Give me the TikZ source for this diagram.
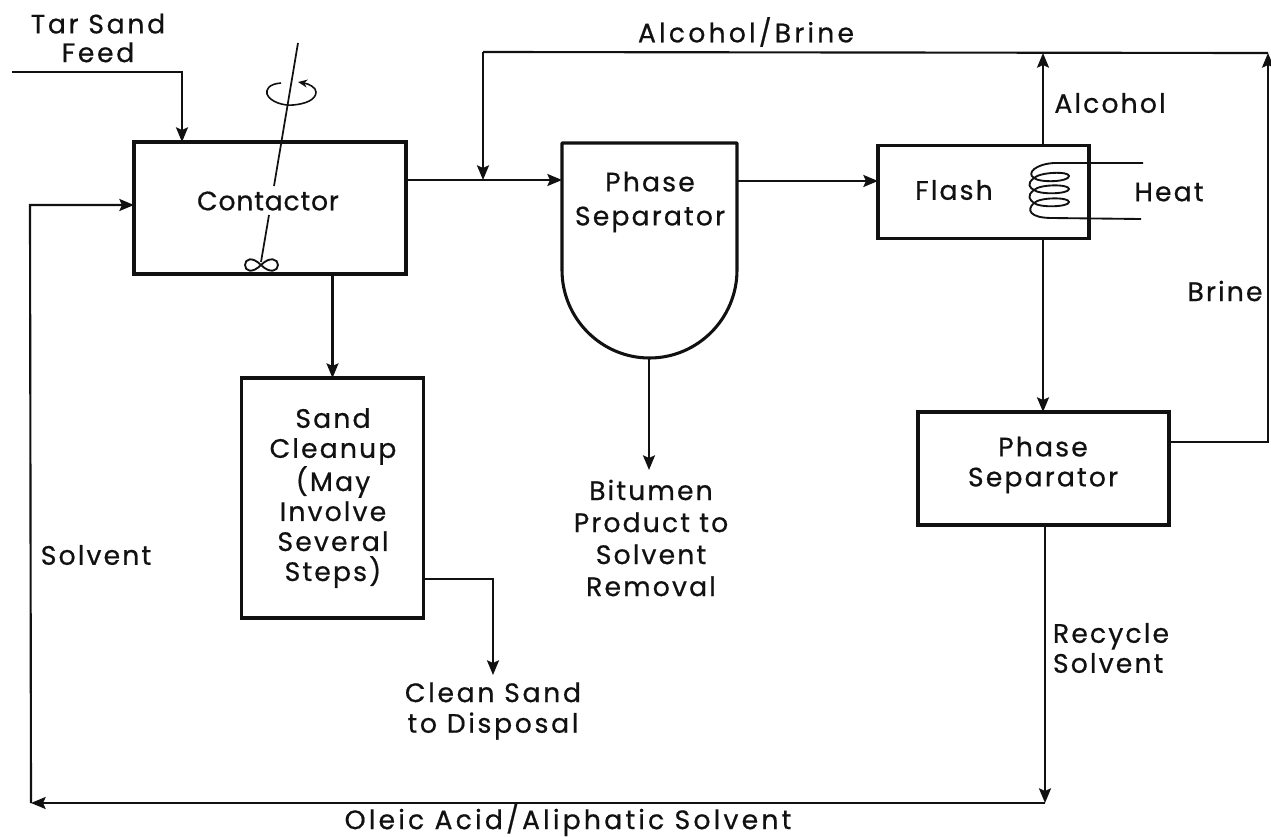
\documentclass[tikz,border=0pt]{standalone}
\usepackage{fontspec}
\setmainfont[LetterSpace=8,FakeBold=0.6]{Poppins}
\newcommand\lsp[1]{\addfontfeatures{LetterSpace=#1}}
\usetikzlibrary{arrows.meta}
\tikzset{
  x=0.75pt, y=-0.75pt,
  boxnode/.style={draw=inkc, line width=2.3pt, rectangle, inner sep=0pt, outer sep=0pt, align=center},
  hiddenbox/.style={rectangle, inner sep=0pt, outer sep=0pt},
  shapeline/.style={draw=inkc, line width=2.3pt, line join=round},
  flow/.style={draw=inkc, line width=1.6pt, -{Stealth[length=11pt,width=9pt,inset=2pt]}},
  plainline/.style={draw=inkc, line width=1.6pt},
  thin line/.style={draw=inkc, line width=1.1pt},
  lbl/.style={inner sep=0pt, outer sep=0pt, align=center, text=inkc, font=\fontsize{20}{22}\selectfont},
}
\definecolor{inkc}{HTML}{111111}
\begin{document}
\begin{tikzpicture}
\useasboundingbox (0,0) rectangle (1271,836);
% boxes
\node[boxnode, minimum width=204pt, minimum height=99pt] (contactor) at (270,208) {};
\node[lbl, font=\fontsize{20}{22}\selectfont\lsp{3}] at (268,201) (tcontactor) {Contactor};
\node[boxnode, minimum width=136.5pt, minimum height=180pt] (sandbox) at (332.5,498) {};
\node[lbl, font=\fontsize{20}{22.5}\selectfont] (tsand) at (333,498) {Sand\\Cleanup\\(May\\Involve\\Several\\Steps)};
\node[hiddenbox, minimum width=131.25pt, minimum height=162pt] (sep) at (649.5,251) {};
\draw[shapeline] (sep.west |- 0,270) -- (sep.north west) -- (sep.north east) -- (sep.east |- 0,270)
  .. controls (737,318.6) and (697.6,358) .. (649.5,358)
  .. controls (601.4,358) and (562,318.6) .. (sep.west |- 0,270) -- cycle;
\node[lbl, font=\fontsize{20}{25.5}\selectfont] (tsep) at (650,202) {Phase\\Separator};
\node[boxnode, minimum width=158.25pt, minimum height=69.75pt] (flash) at (983.5,192) {};
\node[lbl] (tflash) at (954,190) {Flash};
\node[boxnode, minimum width=188.25pt, minimum height=84.75pt] (sep2) at (1043.5,468.5) {};
\node[lbl, font=\fontsize{20}{22.5}\selectfont] (tsep2) at (1043,465) {Phase\\Separator};
% free ends
\coordinate (feedstart) at (12,72);
\coordinate (feedcorner) at (182,72);
\coordinate (topleft) at (483,52);
\coordinate (topright) at (1268,53);
\coordinate (junction) at (483,180);
\coordinate (alcoholtop) at (1043,53);
\coordinate (botright) at (1045,803);
\coordinate (botleft) at (31,803);
\coordinate (solvcorner) at (30,205);
\coordinate (brinecorner) at (1268,442);
\coordinate (sandcorner) at (493,579);
\coordinate (sandtip) at (493,675);
\coordinate (bittip) at (649,470);
% connectors
\draw[flow] (feedstart) -- (feedcorner) -- (feedcorner |- contactor.north);
\draw[flow] (contactor.east |- junction) -- (sep.west |- junction);
\draw[flow] (sep.east |- 0,181) -- (flash.west |- 0,181);
\draw[plainline] (topright) -- (topleft);
\draw[flow] (topleft) -- (junction);
\draw[flow] (flash.north -| alcoholtop) -- (alcoholtop);
\draw[flow] (sep2.east |- brinecorner) -- (brinecorner) -- (topright);
\draw[flow] (flash.south -| alcoholtop) -- (sep2.north -| alcoholtop);
\draw[flow] (sep2.south -| botright) -- (botright);
\draw[flow] (botright) -- (botleft);
\draw[flow] (botleft) -- (solvcorner) -- (contactor.west |- solvcorner);
\draw[flow] (contactor.south -| sandbox.north) -- (sandbox.north);
\draw[flow] (sandbox.east |- sandcorner) -- (sandcorner) -- (sandtip);
\draw[flow] (649,358) -- (bittip);
% mixer
\draw[thin line, line width=1.3pt] (298,43) -- (274,186);
\draw[thin line, line width=1.3pt] (269,215) -- (261,262);
\draw[thin line, line width=1.2pt, -{Stealth[length=7pt,width=6pt]}] (281,83)
  .. controls (268,84) and (266,90) .. (267,94)
  .. controls (270,102) and (284,106) .. (293,105)
  .. controls (305,104) and (316,100) .. (316,92)
  .. controls (316,88) and (310,84) .. (298,82);
\draw[thin line, line width=1.4pt] (261,265) .. controls (252,256) and (245,259) .. (245,265) .. controls (245,271) and (252,274) .. (261,265)
  .. controls (270,256) and (278,259) .. (278,265) .. controls (278,271) and (270,274) .. (261,265);
% coil
\draw[thin line, line width=1.4pt] (1143,163) -- (1054,163)
  .. controls (1036,164) and (1026,173) .. (1034,178)
  .. controls (1040,183) and (1069,182) .. (1069,176)
  .. controls (1069,171) and (1040,172) .. (1034,178)
  .. controls (1026,184) and (1030,188) .. (1034,190)
  .. controls (1040,195) and (1069,194) .. (1069,189)
  .. controls (1069,184) and (1040,184) .. (1034,190)
  .. controls (1026,196) and (1030,200) .. (1034,203)
  .. controls (1040,208) and (1069,207) .. (1069,202)
  .. controls (1069,197) and (1040,197) .. (1034,203)
  .. controls (1026,210) and (1030,218) .. (1052,218) -- (1141,219);
% labels
\node[lbl, font=\fontsize{20}{21.5}\selectfont\lsp{10}] (ttar) at (98,38) {Tar Sand\\Feed};
\node[lbl, font=\fontsize{20}{22}\selectfont\lsp{12}] (talcbrine) at (746,32) {Alcohol/Brine};
\node[lbl] (talcohol) at (1110,103) {Alcohol};
\node[lbl] (theat) at (1169,192) {Heat};
\node[lbl] (tbrine) at (1225,291) {Brine};
\node[lbl, font=\fontsize{20}{24}\selectfont] (tbit) at (651,538) {Bitumen\\Product to\\Solvent\\Removal};
\node[lbl] (tsolvent) at (96,555) {Solvent};
\node[lbl, font=\fontsize{20}{23}\selectfont\lsp{10}] (tclean) at (493,711) {Clean Sand\\to Disposal};
\node[lbl, align=left, anchor=west, font=\fontsize{20}{22.5}\selectfont] (trec) at (1053,648) {Recycle\\Solvent};
\node[lbl, font=\fontsize{20}{22}\selectfont\lsp{12}] (toleic) at (568,820) {Oleic Acid/Aliphatic Solvent};
\end{tikzpicture}
\end{document}
